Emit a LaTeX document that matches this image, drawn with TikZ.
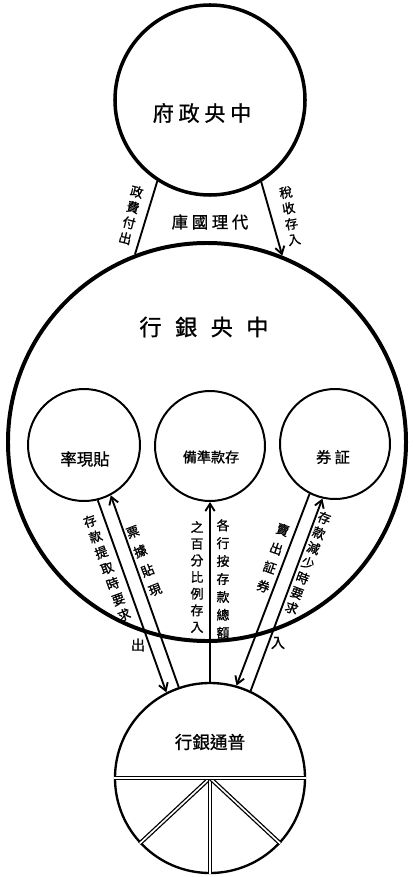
\documentclass[tikz,border=0pt]{standalone}
\usepackage{fontspec}
\newfontfamily\cjk[FakeBold=1]{Noto Sans CJK TC}
\usetikzlibrary{arrows.meta}
\tikzset{
  >={Straight Barb[length=2.2mm,width=2.8mm]},
  ring/.style={circle,draw,line width=#1,inner sep=0pt},
  ring/.default=1.7pt,
  word/.style={font=\cjk\fontsize{#1}{#1}\selectfont,inner sep=1pt},
  col/.style={align=center,inner sep=1pt,font=\cjk\fontsize{11}{#1}\selectfont},
  flow/.style={line width=1.6pt},
  spoke/.style={double,double distance=1.4pt,line width=1.1pt},
}
\begin{document}
\begin{tikzpicture}[x=0.03cm,y=-0.03cm]
  \useasboundingbox (0,0) rectangle (414,877);
  % circles
  \node[ring=3pt,minimum size=5.7cm] (gov) at (210,100) {};
  \node[ring=3.4pt,minimum size=11.94cm] (cbank) at (207,442) {};
  \node[ring,minimum size=3.36cm] (rate) at (84,445) {};
  \node[ring,minimum size=3.3cm] (reserve) at (210,446) {};
  \node[ring,minimum size=3.3cm] (secur) at (335,444) {};
  \node[ring=2pt,minimum size=5.7cm] (bank) at (210,778) {};
  % names
  \node[word=18] (govname) at (202,113) {府 政 央 中};
  \node[word=14] (treasury) at (210,222) {庫 國 理 代};
  \node[word=19] (cbname) at (204,327) {行\hspace{0.6em}銀\hspace{0.6em}央\hspace{0.6em}中};
  \node[word=14] (ratename) at (85,459) {率現貼};
  \node[word=12] (resname) at (211,457) {備準款存};
  \node[word=13] (secname) at (333,457) {券 証};
  \node[word=15] (bankname) at (210,742) {行銀通普};
  % flow labels
  \node[col=13.6,rotate=-14] (pay) at (131,215) {政\\費\\付\\出};
  \node[col=13.6,rotate=10] (tax) at (290,216) {稅\\收\\存\\入};
  \node[col=14.2,rotate=20] (draw) at (107,568) {存\\款\\提\\取\\時\\要\\求};
  \node[col=17.6,rotate=21] (bills) at (144,561) {票\\據\\貼\\現};
  \node[col=14.2] (share) at (197,577) {之\\百\\分\\比\\例\\存\\入};
  \node[col=15.3] (each) at (223,579) {各\\行\\按\\存\\款\\總\\額};
  \node[col=17,rotate=-19] (sell) at (273,558) {賣\\出\\証\\券};
  \node[col=13.6,rotate=-20] (less) at (308,563) {存\\款\\減\\少\\時\\要\\求};
  \node[word=12] (out) at (138,645) {出};
  \node[word=12] (in) at (278,643) {入};
  % connectors
  \draw[flow] (gov.-123) -- (cbank.111);
  \draw[flow,->] (gov.-58) -- (cbank.68);
  \draw[flow,->] (rate.-76) -- (bank.117);
  \draw[flow,<-] (rate.-62) -- (bank.109);
  \draw[flow,<-] (reserve.south) -- (bank.north);
  \draw[flow,->] (secur.-117) -- (bank.74);
  \draw[flow,<-] (secur.-103) -- (bank.65);
  % lower half of the bank
  \foreach \a in {-137,-90,-43} \draw[spoke] (bank.center) -- (bank.\a);
  \draw[spoke] (bank.west) -- (bank.east);
\end{tikzpicture}
\end{document}
